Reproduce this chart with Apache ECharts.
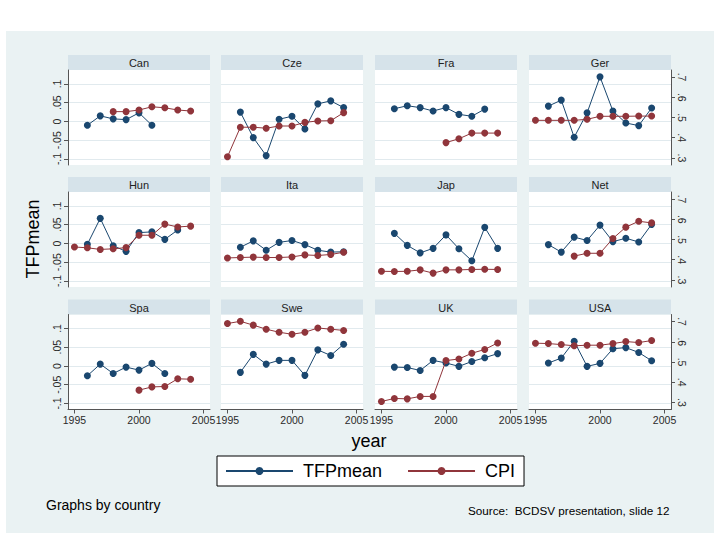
<!DOCTYPE html>
<html><head><meta charset="utf-8">
<script src="https://cdn.jsdelivr.net/npm/echarts@6/dist/echarts.min.js"></script>
<style>
html,body{margin:0;padding:0;background:#fff;}
#bg{position:absolute;left:6px;top:31px;width:708px;height:502px;background:#eaf2f3;}
#chart{position:absolute;left:0;top:0;width:720px;height:540px;}
</style></head><body>
<div id="bg"></div><div id="chart"></div>
<script>
const years = [1995, 1996, 1997, 1998, 1999, 2000, 2001, 2002, 2003, 2004];
const countries = ['Can','Cze','Fra','Ger','Hun','Ita','Jap','Net','Spa','Swe','UK','USA'];

const canTFP = [null, -0.010, 0.015, 0.007, 0.005, 0.023, -0.010, null, null, null];
const canCPI = [null, null, null, 0.529, 0.529, 0.537, 0.553, 0.548, 0.537, 0.532];
const czeTFP = [null, 0.025, -0.043, -0.091, 0.006, 0.014, -0.020, 0.047, 0.055, 0.037];
const czeCPI = [0.306, 0.452, 0.452, 0.447, 0.458, 0.458, 0.476, 0.483, 0.484, 0.524];
const fraTFP = [null, 0.034, 0.042, 0.037, 0.028, 0.037, 0.019, 0.014, 0.033, null];
const fraCPI = [null, null, null, null, null, 0.376, 0.395, 0.423, 0.423, 0.423];
const gerTFP = [null, 0.041, 0.057, -0.042, 0.023, 0.119, 0.028, -0.004, -0.011, 0.036];
const gerCPI = [0.486, 0.486, 0.486, 0.486, 0.491, 0.506, 0.506, 0.506, 0.507, 0.507];
const hunTFP = [null, -0.002, 0.067, -0.006, -0.021, 0.029, 0.031, 0.011, 0.036, null];
const hunCPI = [0.463, 0.459, 0.451, 0.454, 0.460, 0.521, 0.521, 0.576, 0.562, 0.566];
const itaTFP = [null, -0.010, 0.007, -0.018, 0.003, 0.008, -0.003, -0.018, -0.023, -0.022];
const itaCPI = [0.409, 0.411, 0.413, 0.411, 0.411, 0.414, 0.424, 0.421, 0.426, 0.437];
const japTFP = [null, 0.027, -0.005, -0.025, -0.013, 0.023, -0.014, -0.046, 0.043, -0.013];
const japCPI = [0.343, 0.342, 0.343, 0.350, 0.334, 0.350, 0.350, 0.352, 0.353, 0.352];
const netTFP = [null, -0.003, -0.023, 0.017, 0.008, 0.049, 0.005, 0.014, 0.004, 0.051];
const netCPI = [null, null, null, 0.418, 0.432, 0.432, 0.505, 0.561, 0.590, 0.582];
const spaTFP = [null, -0.026, 0.005, -0.020, -0.003, -0.011, 0.007, -0.020, null, null];
const spaCPI = [null, null, null, null, null, 0.361, 0.377, 0.379, 0.417, 0.415];
const sweTFP = [null, -0.017, 0.031, 0.005, 0.015, 0.015, -0.025, 0.043, 0.028, 0.058];
const sweCPI = [0.690, 0.701, 0.682, 0.662, 0.647, 0.637, 0.647, 0.668, 0.662, 0.656];
const ukTFP  = [null, -0.003, -0.004, -0.012, 0.015, 0.008, -0.001, 0.012, 0.022, 0.033];
const ukCPI  = [0.305, 0.320, 0.318, 0.330, 0.330, 0.507, 0.515, 0.543, 0.562, 0.594];
const usaTFP = [null, 0.008, 0.021, 0.066, -0.001, 0.007, 0.046, 0.049, 0.036, 0.014];
const usaCPI = [0.593, 0.591, 0.586, 0.580, 0.583, 0.583, 0.591, 0.601, 0.596, 0.606];

const tfpSeries = [canTFP, czeTFP, fraTFP, gerTFP, hunTFP, itaTFP, japTFP, netTFP, spaTFP, sweTFP, ukTFP, usaTFP];
const cpiSeries = [canCPI, czeCPI, fraCPI, gerCPI, hunCPI, itaCPI, japCPI, netCPI, spaCPI, sweCPI, ukCPI, usaCPI];

const tfpTicks = [-0.1, -0.05, 0, 0.05, 0.1];
const tfpTickLabels = ['-.1', '-.05', '0', '.05', '.1'];
const cpiTicks = [0.3, 0.4, 0.5, 0.6, 0.7];
const cpiTickLabels = ['.3', '.4', '.5', '.6', '.7'];
const yearTicks = [1995, 2000, 2005];
const yearTickLabels = ['1995', '2000', '2005'];

const FONT = 'Liberation Sans, Arial, sans-serif';
const BLUE = '#1a476f', RED = '#90353b';
const AXIS = '#555555', LABEL = '#2a2a2a';
const colLeft = [68, 221, 375, 529];
const rowTop = [70, 192, 314.5];
const panelW = 142, plotH = 95, headerH = 15;

function lab(ticks, labels) {
  return v => { const k = ticks.findIndex(t => Math.abs(t - v) < 1e-9); return k >= 0 ? labels[k] : ''; };
}
function pairs(vals) {
  const out = [];
  vals.forEach((v, k) => { if (v !== null) out.push([years[k], v]); });
  return out;
}

const grids = [], xAxes = [], yAxes = [], series = [], graphics = [];
countries.forEach((name, i) => {
  const r = Math.floor(i / 4), c = i % 4;
  grids.push({left: colLeft[c], top: rowTop[r], width: panelW, height: plotH,
    show: true, backgroundColor: '#ffffff', borderWidth: 0});
  graphics.push({type: 'rect', shape: {x: colLeft[c], y: rowTop[r] - headerH, width: panelW, height: headerH},
    style: {fill: '#d6e3ea'}});
  graphics.push({type: 'text', x: colLeft[c] + panelW / 2, y: rowTop[r] - headerH / 2 + 0.5,
    style: {text: name, fill: '#222', font: '11px ' + FONT, align: 'center', verticalAlign: 'middle'}});
  const bottom = r === 2;
  xAxes.push({gridIndex: i, type: 'value', min: 1994.5, max: 2005.5,
    axisLine: {show: bottom, onZero: false, lineStyle: {color: AXIS, width: 1}},
    axisTick: {show: bottom, customValues: yearTicks, length: 4, lineStyle: {color: AXIS}},
    axisLabel: {show: bottom, customValues: yearTicks, margin: 5, color: LABEL, fontSize: 10.5, fontFamily: FONT,
      formatter: lab(yearTicks, yearTickLabels)},
    splitLine: {show: false}});
  const left = c === 0, right = c === 3;
  yAxes.push({gridIndex: i, type: 'value', position: 'left', min: -0.116, max: 0.1373,
    axisLine: {show: left, onZero: false, lineStyle: {color: AXIS, width: 1}},
    axisTick: {show: left, customValues: tfpTicks, length: 4, lineStyle: {color: AXIS}},
    axisLabel: {show: left, customValues: tfpTicks, rotate: 90, margin: 6, color: LABEL, fontSize: 10.5,
      fontFamily: FONT, formatter: lab(tfpTicks, tfpTickLabels)},
    splitLine: {show: true, lineStyle: {color: '#e1eaee', width: 1}}});
  yAxes.push({gridIndex: i, type: 'value', position: 'right', min: 0.2654, max: 0.7346,
    axisLine: {show: right, onZero: false, lineStyle: {color: AXIS, width: 1}},
    axisTick: {show: right, customValues: cpiTicks, length: 4, lineStyle: {color: AXIS}},
    axisLabel: {show: right, customValues: cpiTicks, rotate: -90, margin: 5, color: LABEL, fontSize: 10.5,
      fontFamily: FONT, formatter: lab(cpiTicks, cpiTickLabels)},
    splitLine: {show: false}});
  series.push({name: 'TFPmean', type: 'line', xAxisIndex: i, yAxisIndex: 2 * i, data: pairs(tfpSeries[i]),
    symbol: 'circle', symbolSize: 7, clip: false, z: 2,
    lineStyle: {color: BLUE, width: 1}, itemStyle: {color: BLUE}});
  series.push({name: 'CPI', type: 'line', xAxisIndex: i, yAxisIndex: 2 * i + 1, data: pairs(cpiSeries[i]),
    symbol: 'circle', symbolSize: 7, clip: false, z: 3,
    lineStyle: {color: RED, width: 1}, itemStyle: {color: RED}});
});

graphics.push({type: 'text', x: 33, y: 239, rotation: Math.PI / 2,
  style: {text: 'TFPmean', fill: '#000', font: '18px ' + FONT, align: 'center', verticalAlign: 'middle'}});
graphics.push({type: 'text', x: 369, y: 441,
  style: {text: 'year', fill: '#000', font: '18px ' + FONT, align: 'center', verticalAlign: 'middle'}});
graphics.push({type: 'text', x: 46, y: 505,
  style: {text: 'Graphs by country', fill: '#000', font: '14px ' + FONT, align: 'left', verticalAlign: 'middle'}});
graphics.push({type: 'text', x: 468, y: 510,
  style: {text: 'Source:  BCDSV presentation, slide 12', fill: '#000', font: '11.7px ' + FONT, align: 'left', verticalAlign: 'middle'}});

const chart = echarts.init(document.getElementById('chart'), null, {renderer: 'svg'});
chart.setOption({
  animation: false,
  backgroundColor: 'transparent',
  grid: grids, xAxis: xAxes, yAxis: yAxes, series: series,
  graphic: {elements: graphics},
  legend: {left: 217, top: 456, data: ['TFPmean', 'CPI'], itemWidth: 67, itemHeight: 10, itemGap: 25,
    padding: [6, 9, 6, 8], borderColor: '#000', borderWidth: 1, backgroundColor: '#fff',
    textStyle: {fontSize: 18, color: '#000', fontFamily: FONT, padding: [0, 0, 0, 5]}}
});
</script></body></html>
